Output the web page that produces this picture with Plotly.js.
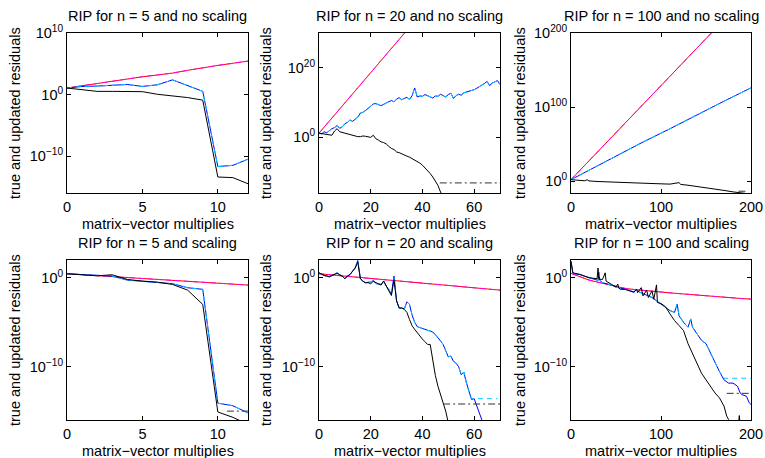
<!DOCTYPE html>
<html>
<head>
<meta charset="utf-8">
<script src="https://cdn.plot.ly/plotly-3.0.1.min.js"></script>
<style>
html,body{margin:0;padding:0;background:#fff;}
#chart{width:765px;height:458px;}
</style>
</head>
<body>
<div id="chart"></div>
<script>
// ---- Data (y values given as log10 exponents) ----
// Panel 1: n = 5, no scaling
const p1_x = [0,1,2,3,4,5,6,7,8,9,10,11,12];
const p1_red = [1.07,1.45,1.8,2.15,2.55,2.9,3.2,3.5,3.95,4.4,4.75,5.1,5.45];
const p1_blue = [1.07,1.33,1.39,1.55,1.65,1.33,1.6,2.4,1.5,0.53,-11.7,-11.5,-10.5];
const p1_black = [1.07,0.8,0.53,0.53,0.5,0.48,0.05,-0.16,-0.48,-0.9,-13.4,-13.5,-14.5];

// Panel 2: n = 20, no scaling
const p2_redx = [0,10,20,30,40,50,60,70];
const p2_red = [1.2,9.9,18.6,27.3,36,44.7,53.4,62.1];
const p2_x = [0,1,2,3,4,5,6,7,8,9,10,11,12,13,14,15,16,17,18,19,20,21,22,23,24,25,26,27,28,29,30,31,32,33,34,35,36,37,38,39,40,41,42,43,44,45,46,47,48,49,50,51,52,53,54,55,56,57,58,59,60,61,62,63,64,65,66,67,68,69,70];
const p2_blue = [1.2,1.0,1.6,1.3,1.9,2.5,2.8,3.4,2.6,3.0,3.9,4.3,5.0,4.6,5.2,5.8,7.0,7.2,7.7,8.4,9.1,9.6,9.7,9.4,9.1,9.5,9.9,10.3,10.6,10.2,11.0,11.4,10.8,11.2,11.5,10.9,12.0,14.2,11.6,11.9,11.8,12.3,12.0,11.6,11.3,11.9,11.8,12.4,11.9,11.6,12.3,12.7,11.2,12.0,12.4,12.1,12.8,13.0,13.2,13.4,13.7,14.1,14.5,14.9,15.5,16.1,14.9,15.6,15.9,16.3,15.2];
const p2_blackx = [0,1,2,3,4,5,6,7,8,9,10,11,12,13,14,15,16,17,18,19,20,21,22,23,24,25,26,27,28,29,30,31,32,33,34,35,36,37,38,39,40,41,42,43,44,45,46,47,48];
const p2_black = [1.2,1.1,0.9,0.8,0.9,0.6,1.8,2.5,1.6,1.4,1.3,0.9,0.7,0.5,0.4,0.2,0.2,0.4,0.3,0.1,0.0,0.6,-0.4,-0.8,-1.3,-1.5,-1.9,-2.6,-3.2,-3.5,-4.2,-4.4,-4.8,-5.0,-5.4,-5.7,-6.1,-6.6,-7.0,-7.4,-8.0,-8.7,-9.5,-10.4,-11.4,-12.6,-13.8,-15.7,-17.2];
const p2_tolx = [46.7,70];
const p2_tol = [-13.1,-13.1];

// Panel 3: n = 100, no scaling
const p3_redx = [0,40,80,120,160,200];
const p3_red = [2,52.8,103.6,154.4,205.2,256];
const p3_bluex = [0,10,20,30,40,50,60,70,80,90,100,110,120,130,140,150,160,170,180,190,200];
const p3_blue = [2,8.5,14.5,20.8,27.5,34,40,46.5,52.8,58.5,64.5,70.8,77,83.4,89.7,96,101.8,108,114,120,126];
const p3_blackx = [0,10,15,18,20,30,40,50,60,70,80,90,100,110,120,122,130,140,150,160,170,180,190,200];
const p3_black = [2,1.0,0.5,1.8,0.3,-0.5,-0.8,-1.3,-1.5,-2.2,-2.8,-3.2,-3.6,-4.0,-2.0,-4.4,-5.5,-7,-9,-10.5,-12.5,-14.5,-16.5,-17.5];
const p3_tolx = [186,196];
const p3_tol = [-13.6,-13.6];

// Panel 4: n = 5, scaling
const p4_x = [0,1,2,3,4,5,6,7,8,9,10,11,12];
const p4_red = [0.45,0.35,0.24,0.13,0.03,-0.08,-0.18,-0.29,-0.4,-0.5,-0.61,-0.71,-0.82];
const p4_blue = [0.45,0.34,0.22,0.19,-0.26,-0.41,-0.56,-0.67,-1.12,-1.3,-14.1,-14.4,-15.2];
const p4_black = [0.45,0.34,0.22,0.34,-0.19,-0.37,-0.49,-0.75,-1.39,-3.0,-15.1,-15.7,-16.5];
const p4_tolx = [10.6,12];
const p4_tol = [-15.0,-15.0];

// Panel 5: n = 20, scaling
const p5_redx = [0,10,20,30,40,50,60,70];
const p5_red = [0.45,0.19,-0.07,-0.34,-0.6,-0.86,-1.12,-1.39];
const p5_bluex = [0,1,2,3,4,5,6,7,8,9,10,11,12,13,14,15,16,17,18,19,20,21,22,23,24,25,26,27,28,29,30,31,32,33,34,35,36,37,38,39,40,41,42,43,44,45,46,47,48,49,50,51,52,53,54,55,56,57,58,59,60,61,62,63,64];
const p5_blue = [0.56,0.4,0.26,0.2,0.11,0.25,0.37,0.56,0.33,0.19,-0.11,0.19,0.37,0.75,1.12,1.95,-0.11,-0.37,-0.56,-0.5,-0.49,-0.3,-0.64,-0.7,-0.75,-0.37,-0.94,-1.3,-1.87,0.19,-2.6,-3.4,-3.4,-3.5,-2.7,-3.0,-4.2,-5.0,-5.5,-5.6,-5.7,-5.8,-5.9,-6.0,-6.1,-6.4,-6.7,-7.1,-7.5,-8.3,-8.9,-8.8,-9.4,-9.6,-10.0,-10.9,-10.6,-11.8,-12.9,-13.7,-13.6,-14.4,-15.2,-16.0,-16.8];
const p5_cyanx = [0,1,2,3,4,5,6,7,8,9,10,11,12,13,14,15,16,17,18,19,20,21,22,23,24,25,26,27,28,29,30,31,32,33,34,35,36,37,38,39,40,41,42,43,44,45,46,47,48,49,50,51,52,53,54,55,56,57,58,59,69];
const p5_cyan = [0.56,0.4,0.26,0.2,0.11,0.25,0.37,0.56,0.33,0.19,-0.11,0.19,0.37,0.75,1.12,1.95,-0.11,-0.37,-0.56,-0.5,-0.49,-0.3,-0.64,-0.7,-0.75,-0.37,-0.94,-1.3,-1.87,0.19,-2.6,-3.4,-3.4,-3.5,-2.7,-3.0,-4.2,-5.0,-5.5,-5.6,-5.7,-5.8,-5.9,-6.0,-6.1,-6.4,-6.7,-7.1,-7.5,-8.3,-8.9,-8.8,-9.4,-9.6,-10.0,-10.9,-10.6,-11.8,-12.9,-13.6,-13.6];
const p5_blackx = [0,1,2,3,4,5,6,7,8,9,10,11,12,13,14,15,16,17,18,19,20,21,22,23,24,25,26,27,28,29,30,31,32,33,34,35,36,37,38,39,40,41,42,43,44,45,46,47,48,49,50];
const p5_black = [0.56,0.4,0.26,0.2,0.11,0.25,0.37,0.5,0.33,0.19,-0.11,0.19,0.37,0.75,1.1,1.76,-0.11,-0.4,-0.56,-0.55,-0.67,-0.4,-0.56,-0.7,-0.82,-0.37,-0.94,-1.4,-2.0,-0.19,-2.6,-3.4,-3.4,-3.56,-3.9,-4.7,-5.4,-5.8,-6.2,-6.5,-6.9,-7.2,-7.5,-7.5,-9.2,-11.0,-12.2,-13.1,-14.0,-15.0,-16.3];
const p5_tolx = [48,70];
const p5_tol = [-14.2,-14.2];

// Panel 6: n = 100, scaling
const p6_redx = [0,10,20,30,40,50,60,70,80,90,100,110,120,130,140,150,160,170,180,190,200];
const p6_red = [0.5,0.1,-0.26,-0.5,-0.75,-0.98,-1.19,-1.32,-1.44,-1.53,-1.6,-1.7,-1.79,-1.88,-1.96,-2.04,-2.12,-2.2,-2.28,-2.34,-2.4];
const p6_bluex = [0,2,5,10,15,20,25,30,31,32,35,40,45,50,55,60,65,70,72,75,80,85,90,95,100,105,110,115,118,120,125,130,133,135,140,145,150,155,160,165,170,175,180,185,188,190,195,198,200];
const p6_blue = [1.85,0.56,0.44,0.37,0.19,0,-0.19,-0.3,0.6,-0.3,-0.56,-0.67,-0.81,-1.04,-1.19,-1.3,-1.41,-1.67,-1.3,-1.56,-1.78,-2.04,-2.22,-2.59,-2.96,-3.33,-3.7,-3.89,-2.96,-4.26,-5.0,-5.56,-4.63,-5.56,-6.3,-7.04,-7.41,-8.52,-9.63,-10.56,-11.48,-11.85,-11.85,-12.2,-12.96,-13.15,-13.33,-14.07,-14.26];
const p6_cyanx = [0,2,5,10,15,20,25,30,31,32,35,40,45,50,55,60,65,70,72,75,80,85,90,95,100,105,110,115,118,120,125,130,133,135,140,145,150,155,160,165,170,174,200];
const p6_cyan = [1.85,0.56,0.44,0.37,0.19,0,-0.19,-0.3,0.6,-0.3,-0.56,-0.67,-0.81,-1.04,-1.19,-1.3,-1.41,-1.67,-1.3,-1.56,-1.78,-2.04,-2.22,-2.59,-2.96,-3.33,-3.7,-3.89,-2.96,-4.26,-5.0,-5.56,-4.63,-5.56,-6.3,-7.04,-7.41,-8.52,-9.63,-10.56,-11.3,-11.3,-11.3];
const p6_blackx = [0,2,10,20,29,30,31,35,38,39,45,50,52,53,55,60,65,70,73,74,78,80,84,86,90,92,95,96,100,105,110,115,120,125,130,135,140,145,150,155,160,165,170,173,175,180,186,187,188];
const p6_black = [1.85,0.56,0.37,0,-0.1,1.1,-0.15,-0.19,0.56,-0.37,-0.74,-1.04,-0.7,-1.15,-1.3,-1.3,-1.48,-1.59,-1.3,-1.67,-1.11,-2.04,-1.4,-2.22,-1.48,-2.41,-0.8,-2.78,-2.89,-3.26,-4.07,-4.81,-5.37,-5.93,-7.41,-8.52,-9.63,-10.74,-11.48,-12.22,-12.96,-13.52,-14.44,-15.56,-15.93,-16.5,-16.5,-15.5,-16.5];
const p6_tolx = [173,200];
const p6_tol = [-13.0,-13.0];

// ---- Titles and tick labels ----
const titles = ["RIP for n = 5 and no scaling","RIP for n = 20 and no scaling","RIP for n = 100 and no scaling",
                "RIP for n = 5 and scaling","RIP for n = 20 and scaling","RIP for n = 100 and scaling"];
const xLabel = "matrix\u2212vector multiplies";
const yLabel = "true and updated residuals";
const xTicks = [[0,5,10],[0,20,40,60],[0,100,200],[0,5,10],[0,20,40,60],[0,100,200]];
const yTickExp = [[-10,0,10],[0,20],[0,100,200],[-10,0],[-10,0],[-10,0]];

// ---- Build ----
const pw = 765, ph = 458;
const colL = [67,319,571], colR = [248,500,751];
const rowT = [33,260], rowB = [193,420];
const xRanges = [[0,12],[0,70],[0,200],[0,12],[0,70],[0,200]];
const yRanges = [[-16,10.02],[-16,30],[-16,200.05],[-16,2],[-16,2],[-16,2]];
const pw10 = a => a.map(v => Math.pow(10, v));

const panels = [
  {red:[p1_x,p1_red], blue:[p1_x,p1_blue], cyan:[p1_x,p1_blue], black:[p1_x,p1_black], tol:null},
  {red:[p2_redx,p2_red], blue:[p2_x,p2_blue], cyan:[p2_x,p2_blue], black:[p2_blackx,p2_black], tol:[p2_tolx,p2_tol]},
  {red:[p3_redx,p3_red], blue:[p3_bluex,p3_blue], cyan:[p3_bluex,p3_blue], black:[p3_blackx,p3_black], tol:[p3_tolx,p3_tol]},
  {red:[p4_x,p4_red], blue:[p4_x,p4_blue], cyan:[p4_x,p4_blue], black:[p4_x,p4_black], tol:[p4_tolx,p4_tol]},
  {red:[p5_redx,p5_red], blue:[p5_bluex,p5_blue], cyan:[p5_cyanx,p5_cyan], black:[p5_blackx,p5_black], tol:[p5_tolx,p5_tol]},
  {red:[p6_redx,p6_red], blue:[p6_bluex,p6_blue], cyan:[p6_cyanx,p6_cyan], black:[p6_blackx,p6_black], tol:[p6_tolx,p6_tol]}
];

const traces = [];
const FONT = {family: 'Liberation Sans, Arial, sans-serif', size: 14.5, color: '#000'};
const layout = {
  width: pw, height: ph,
  margin: {l:0,r:0,t:0,b:0},
  paper_bgcolor: '#ffffff', plot_bgcolor: '#ffffff',
  showlegend: false,
  font: FONT,
  annotations: []
};

panels.forEach((p, i) => {
  const r = Math.floor(i/3), c = i % 3;
  const xa = 'x' + (i+1), ya = 'y' + (i+1);
  const xk = 'xaxis' + (i===0?'':i+1), yk = 'yaxis' + (i===0?'':i+1);
  const mk = (d, color, dash, w) => ({
    x: d[0], y: pw10(d[1]), xaxis: xa, yaxis: ya, type: 'scatter', mode: 'lines',
    line: {color: color, width: w || 1, dash: dash || 'solid'}, hoverinfo: 'skip'
  });
  traces.push(mk(p.red, '#ff0000'));
  traces.push(mk(p.red, '#ff00ff', '5px,4px'));
  traces.push(mk(p.blue, '#0000ff'));
  traces.push(mk(p.cyan, '#00ccff', '5px,4px'));
  traces.push(mk(p.black, '#000000'));
  if (p.tol) traces.push(mk(p.tol, '#333333', '7px,3px,2px,3px'));

  layout[xk] = {
    domain: [colL[c]/pw, colR[c]/pw], anchor: ya, range: xRanges[i],
    tickmode: 'array', tickvals: xTicks[i], ticktext: xTicks[i].map(String),
    ticks: 'inside', ticklen: 4, tickcolor: '#000', showline: true, linecolor: '#000', linewidth: 1,
    mirror: 'ticks', showgrid: false, zeroline: false, tickfont: FONT, ticklabelstandoff: 1
  };
  layout[yk] = {
    domain: [1 - rowB[r]/ph, 1 - rowT[r]/ph], anchor: xa, type: 'log', range: yRanges[i],
    tickmode: 'array', tickvals: yTickExp[i].map(e => Math.pow(10, e)),
    ticktext: yTickExp[i].map(e => '10<sup>' + (e < 0 ? '\u2212' + (-e) : e) + '</sup>'),
    ticks: 'inside', ticklen: 4, tickcolor: '#000', showline: true, linecolor: '#000', linewidth: 1,
    mirror: 'ticks', showgrid: false, zeroline: false, tickfont: FONT
  };
  const cx = (colL[c] + colR[c]) / 2;
  layout.annotations.push({text: titles[i], xref:'paper', yref:'paper', x: cx/pw, y: 1 - (r===0?16:243)/ph,
    xanchor:'center', yanchor:'middle', showarrow:false, font: FONT});
  layout.annotations.push({text: xLabel, xref:'paper', yref:'paper', x: cx/pw, y: 1 - (r===0?224:450.5)/ph,
    xanchor:'center', yanchor:'middle', showarrow:false, font: FONT});
  const yx = [15,266,520][c];
  layout.annotations.push({text: yLabel, xref:'paper', yref:'paper', x: yx/pw, y: 1 - ((rowT[r]+rowB[r])/2)/ph,
    xanchor:'center', yanchor:'middle', textangle: -90, showarrow:false, font: FONT});
});

Plotly.newPlot('chart', traces, layout, {staticPlot: true, displayModeBar: false});
</script>
</body>
</html>
